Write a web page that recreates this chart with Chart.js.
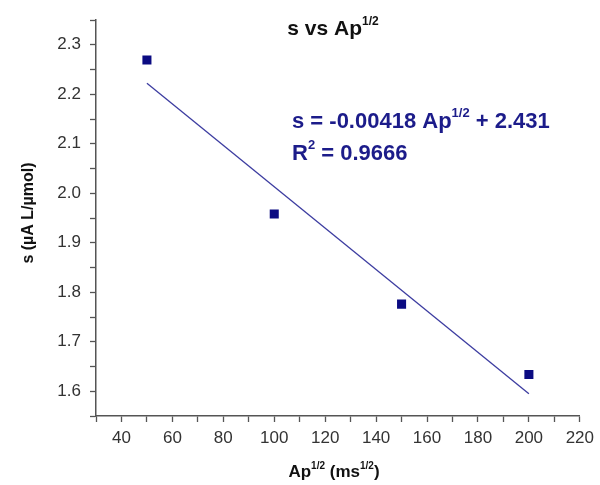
<!DOCTYPE html>
<html>
<head>
<meta charset="utf-8">
<script src="https://cdn.jsdelivr.net/npm/chart.js@4/dist/chart.umd.min.js"></script>
<style>
  html, body { margin: 0; padding: 0; background: #fff; }
  #wrap { width: 600px; height: 485px; }
</style>
</head>
<body>
<div id="wrap"><canvas id="plot"></canvas></div>
<script>
// measured points
const apRoot = [50, 100, 150, 200];
const sens = [2.269, 1.958, 1.776, 1.634];

// linear fit line, end points
const fitX = [50, 200];
const fitY = [2.222, 1.595];

const xTicks = [40, 60, 80, 100, 120, 140, 160, 180, 200, 220];
const yTicks = [1.6, 1.7, 1.8, 1.9, 2.0, 2.1, 2.2, 2.3];

const navy = '#0b0b82';
const eqColor = '#1c1c8a';
const axisGray = '#555555';

// draw a run of text pieces, some raised as superscripts
function drawRich(ctx, parts, x, y, size, color, align) {
    ctx.save();
    ctx.fillStyle = color;
    ctx.textBaseline = 'alphabetic';
    ctx.textAlign = 'left';
    const supSize = Math.round(size * 0.58);
    let total = 0;
    parts.forEach(p => {
        ctx.font = 'bold ' + (p.sup ? supSize : size) + 'px "Liberation Sans", Arial, sans-serif';
        total += ctx.measureText(p.t).width;
    });
    let cx = align === 'center' ? x - total / 2 : x;
    parts.forEach(p => {
        ctx.font = 'bold ' + (p.sup ? supSize : size) + 'px "Liberation Sans", Arial, sans-serif';
        ctx.fillText(p.t, cx, p.sup ? y - size * 0.48 : y);
        cx += ctx.measureText(p.t).width;
    });
    ctx.restore();
}

const labelsPlugin = {
    id: 'labels',
    afterDraw(chart) {
        const ctx = chart.ctx;
        drawRich(ctx, [{t: 's vs Ap'}, {t: '1/2', sup: true}], 333, 35, 21, '#111', 'center');
        drawRich(ctx, [{t: 's = -0.00418 Ap'}, {t: '1/2', sup: true}, {t: ' + 2.431'}], 292, 128, 22, eqColor, 'left');
        drawRich(ctx, [{t: 'R'}, {t: '2', sup: true}, {t: ' = 0.9666'}], 292, 160, 22, eqColor, 'left');
        drawRich(ctx, [{t: 'Ap'}, {t: '1/2', sup: true}, {t: ' (ms'}, {t: '1/2', sup: true}, {t: ')'}], 334, 477, 17, '#111', 'center');
        ctx.save();
        ctx.translate(33, 213);
        ctx.rotate(-Math.PI / 2);
        drawRich(ctx, [{t: 's (\u00b5A L/\u00b5mol)'}], 0, 0, 16, '#111', 'center');
        ctx.restore();
    }
};

new Chart(document.getElementById('plot'), {
    type: 'scatter',
    data: {
        datasets: [
            {
                data: apRoot.map((x, i) => ({x: x, y: sens[i]})),
                pointStyle: 'rect',
                pointRadius: 6.4,
                backgroundColor: navy,
                borderColor: navy,
                borderWidth: 0,
                order: 1
            },
            {
                type: 'line',
                data: fitX.map((x, i) => ({x: x, y: fitY[i]})),
                borderColor: '#3c3ca0',
                borderWidth: 1.3,
                pointRadius: 0,
                fill: false,
                order: 2
            }
        ]
    },
    options: {
        responsive: true,
        maintainAspectRatio: false,
        animation: false,
        layout: { padding: { top: 20, right: 17, left: 0, bottom: 0 } },
        plugins: {
            legend: { display: false },
            tooltip: { enabled: false }
        },
        scales: {
            x: {
                type: 'linear',
                min: 30,
                max: 220,
                afterFit: s => { s.height = 69; },
                afterBuildTicks: s => {
                    const t = [];
                    for (let v = 30; v <= 220; v += 10) t.push({value: v});
                    s.ticks = t;
                },
                ticks: {
                    autoSkip: false,
                    maxRotation: 0,
                    padding: 6,
                    color: '#333',
                    font: { family: '"Liberation Sans", Arial, sans-serif', size: 17 },
                    callback: v => xTicks.includes(v) ? String(v) : ''
                },
                grid: { drawOnChartArea: false, tickLength: 6, tickColor: axisGray, tickWidth: 1.3 },
                border: { color: axisGray, width: 1.5 }
            },
            y: {
                type: 'linear',
                min: 1.55,
                max: 2.35,
                afterFit: s => { s.width = 96; },
                afterBuildTicks: s => {
                    const t = [];
                    for (let k = 31; k <= 47; k++) t.push({value: Math.round(k * 5) / 100});
                    s.ticks = t;
                },
                ticks: {
                    autoSkip: false,
                    padding: 9,
                    color: '#333',
                    font: { family: '"Liberation Sans", Arial, sans-serif', size: 17 },
                    callback: v => yTicks.some(t => Math.abs(t - v) < 1e-6) ? v.toFixed(1) : ''
                },
                grid: { drawOnChartArea: false, tickLength: 6, tickColor: axisGray, tickWidth: 1.3 },
                border: { color: axisGray, width: 1.5 }
            }
        }
    },
    plugins: [labelsPlugin]
});
</script>
</body>
</html>
